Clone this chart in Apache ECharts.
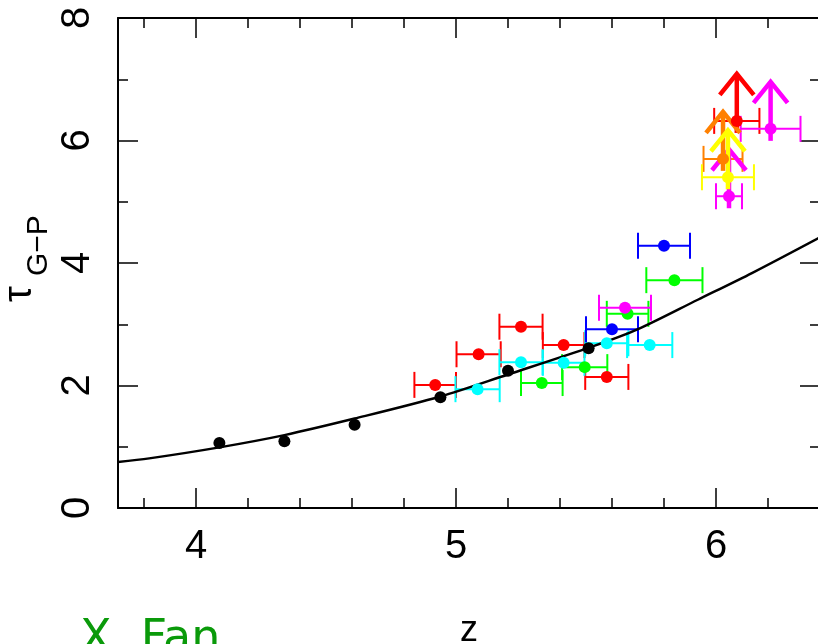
<!DOCTYPE html>
<html><head><meta charset="utf-8">
<script src="https://cdn.jsdelivr.net/npm/echarts@6/dist/echarts.min.js"></script>
<style>html,body{margin:0;padding:0;background:#fff;overflow:hidden}#c{width:818px;height:644px}</style>
</head><body><div id="c"></div>
<script>
// ---- data ----
const xMajorTicks = [4, 5, 6];
const xMinorTicks = [3.8, 4.2, 4.4, 4.6, 4.8, 5.2, 5.4, 5.6, 5.8, 6.2];
const yMajorTicks = [0, 2, 4, 6, 8];
const yMinorTicks = [1, 3, 5, 7];

const modelZ   = [3.70, 3.82, 4.09, 4.34, 4.61, 4.94, 5.20, 5.52, 5.70, 5.93, 6.14, 6.40];
const modelTau = [0.75, 0.81, 0.99, 1.19, 1.46, 1.82, 2.18, 2.63, 2.92, 3.40, 3.84, 4.42];

const blackZ   = [4.09, 4.34, 4.61, 4.94, 5.20, 5.51];
const blackTau = [1.06, 1.09, 1.36, 1.81, 2.24, 2.61];

const redZ   = [4.92, 5.087, 5.25, 5.414, 5.58];
const redTau = [2.01, 2.51, 2.96, 2.66, 2.14];
const redErr = [0.08, 0.085, 0.083, 0.08, 0.083];
const redLimZ = [6.08], redLimTau = [6.32], redLimErr = [0.087];

const cyanZ   = [5.083, 5.25, 5.414, 5.58, 5.745];
const cyanTau = [1.94, 2.38, 2.37, 2.69, 2.66];
const cyanErr = [0.085, 0.083, 0.08, 0.083, 0.087];

const greenZ   = [5.33, 5.495, 5.66, 5.84];
const greenTau = [2.04, 2.30, 3.17, 3.72];
const greenErr = [0.08, 0.087, 0.08, 0.108];

const blueZ   = [5.60, 5.80];
const blueTau = [2.92, 4.28];
const blueErr = [0.10, 0.10];

const magentaZ   = [5.65];
const magentaTau = [3.27];
const magentaErr = [0.10];
const magentaLimZ = [6.21, 6.05], magentaLimTau = [6.19, 5.09], magentaLimErr = [0.115, 0.05];

const orangeLimZ = [6.027], orangeLimTau = [5.70], orangeLimErr = [0.075];
const yellowLimZ = [6.046], yellowLimTau = [5.40], yellowLimErr = [0.10];

// ---- styling ----
const FONT = 'Liberation Sans';
const zip = (a, b, c) => a.map((v, i) => c ? [v, b[i], c[i]] : [v, b[i]]);

function errSeries(data, color) {
  return {
    type: 'custom', xAxisIndex: 0, yAxisIndex: 0, data, z: 3,
    encode: { x: 0, y: 1 },
    renderItem(params, api) {
      const z = api.value(0), t = api.value(1), e = api.value(2);
      const l = api.coord([z - e, t]), r = api.coord([z + e, t]);
      const st = { stroke: color, lineWidth: 2, fill: null };
      return { type: 'group', children: [
        { type: 'line', shape: { x1: l[0], y1: l[1], x2: r[0], y2: r[1] }, style: st },
        { type: 'line', shape: { x1: l[0], y1: l[1] - 13, x2: l[0], y2: l[1] + 13 }, style: st },
        { type: 'line', shape: { x1: r[0], y1: r[1] - 13, x2: r[0], y2: r[1] + 13 }, style: st }
      ]};
    }
  };
}
function arrowSeries(data, color) {
  return {
    type: 'custom', xAxisIndex: 0, yAxisIndex: 0, data, z: 4,
    encode: { x: 0, y: 1 },
    renderItem(params, api) {
      const p = api.coord([api.value(0), api.value(1)]);
      const st = { stroke: color, lineWidth: 4.5, lineCap: 'butt', lineJoin: 'miter', fill: null };
      const tip = p[1] - 47;
      return { type: 'group', children: [
        { type: 'line', shape: { x1: p[0], y1: p[1] + 12, x2: p[0], y2: tip }, style: st },
        { type: 'polyline', shape: { points: [[p[0] - 17, tip + 21], [p[0], tip], [p[0] + 17, tip + 21]] }, style: st }
      ]};
    }
  };
}
function dotSeries(data, color, size) {
  return { type: 'scatter', xAxisIndex: 0, yAxisIndex: 0, data, symbol: 'circle', symbolSize: size || 12,
    itemStyle: { color, opacity: 1 }, z: 5, silent: true };
}

const groups = [
  { color: '#ff0000', pts: zip(redZ, redTau, redErr), lim: zip(redLimZ, redLimTau, redLimErr) },
  { color: '#00ffff', pts: zip(cyanZ, cyanTau, cyanErr), lim: [] },
  { color: '#00ff00', pts: zip(greenZ, greenTau, greenErr), lim: [] },
  { color: '#0000ff', pts: zip(blueZ, blueTau, blueErr), lim: [] },
  { color: '#ff00ff', pts: zip(magentaZ, magentaTau, magentaErr), lim: zip(magentaLimZ, magentaLimTau, magentaLimErr) },
  { color: '#ff8000', pts: [], lim: zip(orangeLimZ, orangeLimTau, orangeLimErr) },
  { color: '#ffff00', pts: [], lim: zip(yellowLimZ, yellowLimTau, yellowLimErr) }
];

const series = [];
groups.forEach(g => {
  const all = g.pts.concat(g.lim);
  series.push(errSeries(all, g.color));
  if (g.lim.length) series.push(arrowSeries(g.lim, g.color));
  series.push(dotSeries(all, g.color));
});
series.push({ type: 'line', xAxisIndex: 0, yAxisIndex: 0, data: zip(modelZ, modelTau), smooth: 0.3,
  showSymbol: false, symbol: 'none', lineStyle: { color: '#000', width: 2.5 }, z: 4, silent: true });
series.push(dotSeries(zip(blackZ, blackTau), '#000', 12));

const lineSt = { color: '#000', width: 2 };
const tickSt = { color: '#000', width: 1.5 };
function xAx(position, ticks, len, main, labels) {
  return {
    type: 'value', gridIndex: 0, position, min: 3.7, max: 6.4,
    axisLine: { show: main, lineStyle: lineSt, onZero: false },
    axisTick: { show: true, inside: true, length: len, customValues: ticks, lineStyle: tickSt },
    axisLabel: labels ? { show: true, customValues: xMajorTicks, margin: 19, color: '#000',
      fontFamily: FONT, fontSize: 40 } : { show: false },
    splitLine: { show: false }, axisPointer: { show: false }
  };
}
function yAx(position, ticks, len, main, labels) {
  return {
    type: 'value', gridIndex: 0, position, min: 0, max: 8,
    axisLine: { show: main, lineStyle: lineSt, onZero: false },
    axisTick: { show: true, inside: true, length: len, customValues: ticks, lineStyle: tickSt },
    axisLabel: labels ? { show: true, customValues: yMajorTicks, rotate: 90, margin: 20, color: '#000',
      fontFamily: FONT, fontSize: 40 } : { show: false },
    splitLine: { show: false }, axisPointer: { show: false }
  };
}

const chart = echarts.init(document.getElementById('c'), null, { renderer: 'canvas' });
chart.setOption({
  animation: false,
  backgroundColor: '#fff',
  grid: { left: 118, top: 18, width: 702, height: 490, containLabel: false, outerBoundsMode: 'none' },
  xAxis: [
    Object.assign(xAx('bottom', xMajorTicks, 20, true, true), {
      name: 'z', nameLocation: 'middle', nameGap: 105,
      nameTextStyle: { fontFamily: FONT, fontSize: 36, color: '#000' } }),
    xAx('bottom', xMinorTicks, 10, false, false),
    xAx('top', xMajorTicks, 20, true, false),
    xAx('top', xMinorTicks, 10, false, false)
  ],
  yAxis: [
    yAx('left', yMajorTicks, 20, true, true),
    yAx('left', yMinorTicks, 10, false, false),
    yAx('right', yMajorTicks, 20, true, false),
    yAx('right', yMinorTicks, 10, false, false)
  ],
  graphic: [
    { type: 'text', x: 40, y: 302, rotation: Math.PI / 2,
      style: { text: 'τ', font: '40px "Liberation Sans"', fill: '#000', textAlign: 'left', textVerticalAlign: 'bottom' } },
    { type: 'text', x: 54, y: 276, rotation: Math.PI / 2,
      style: { text: 'G−P', font: '30px "Liberation Sans"', fill: '#000', textAlign: 'left', textVerticalAlign: 'bottom' } },
    { type: 'text', x: 80, y: 617,
      style: { text: 'X. Fan', font: '46px "DejaVu Sans"', fill: '#0a9a0a', textAlign: 'left', textVerticalAlign: 'top' } }
  ],
  series
});
</script></body></html>
